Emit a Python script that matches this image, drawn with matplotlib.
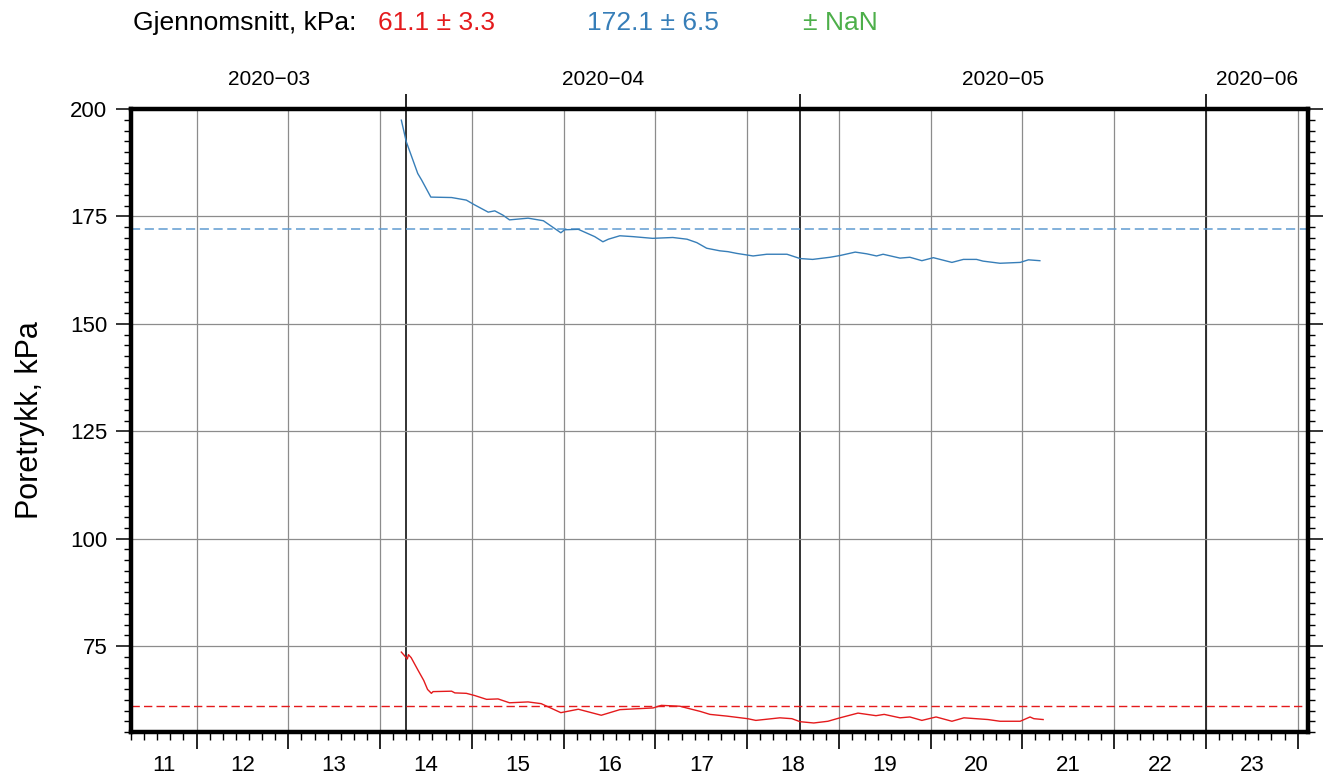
import matplotlib
matplotlib.use('Agg')
import matplotlib.pyplot as plt
import matplotlib.dates as mdates
from matplotlib.ticker import MultipleLocator
import pandas as pd

plt.rcParams['font.family'] = 'Liberation Sans'

# Pore pressure readings (thinned hourly series)
blue_time = ['2020-03-31 15:00', '2020-04-01 00:00', '2020-04-01 21:00', '2020-04-02 04:00',
             '2020-04-02 21:00', '2020-04-04 11:00', '2020-04-05 14:00', '2020-04-06 05:00',
             '2020-04-07 06:00', '2020-04-07 18:00', '2020-04-08 09:00', '2020-04-08 21:00',
             '2020-04-10 07:00', '2020-04-11 11:00', '2020-04-12 19:00', '2020-04-13 02:00',
             '2020-04-14 03:00', '2020-04-15 09:00', '2020-04-16 00:00', '2020-04-16 10:00',
             '2020-04-17 07:00', '2020-04-18 07:00', '2020-04-19 19:00', '2020-04-21 08:00',
             '2020-04-22 10:00', '2020-04-23 04:00', '2020-04-23 22:00', '2020-04-24 22:00',
             '2020-04-25 13:00', '2020-04-26 05:00', '2020-04-27 11:00', '2020-04-28 12:00',
             '2020-04-30 01:00', '2020-05-01 01:00', '2020-05-02 00:00', '2020-05-03 08:00',
             '2020-05-04 02:00', '2020-05-05 06:00', '2020-05-06 03:00', '2020-05-06 21:00',
             '2020-05-07 09:00', '2020-05-08 16:00', '2020-05-09 10:00', '2020-05-10 08:00',
             '2020-05-11 05:00', '2020-05-12 15:00', '2020-05-13 12:00', '2020-05-14 12:00',
             '2020-05-15 00:00', '2020-05-16 07:00', '2020-05-17 20:00', '2020-05-18 11:00',
             '2020-05-19 08:00']
blue_kpa = [197.4, 192.4, 185.0, 183.5, 179.5, 179.4, 178.8, 177.7,
            176.0, 176.3, 175.3, 174.2, 174.6, 174.0, 171.2, 171.9,
            172.0, 170.3, 169.1, 169.7, 170.5, 170.3, 169.9, 170.1,
            169.7, 168.9, 167.6, 167.0, 166.8, 166.4, 165.8, 166.2,
            166.2, 165.2, 165.0, 165.5, 165.9, 166.7, 166.3, 165.8,
            166.2, 165.3, 165.5, 164.7, 165.4, 164.3, 165.0, 165.0,
            164.6, 164.1, 164.3, 164.9, 164.7]

red_time = ['2020-03-31 15:00', '2020-04-01 02:00', '2020-04-01 04:00', '2020-04-01 09:00',
            '2020-04-01 21:00', '2020-04-02 08:00', '2020-04-02 15:00', '2020-04-02 22:00',
            '2020-04-03 01:00', '2020-04-04 11:00', '2020-04-04 17:00', '2020-04-05 14:00',
            '2020-04-06 05:00', '2020-04-07 03:00', '2020-04-08 00:00', '2020-04-08 21:00',
            '2020-04-10 07:00', '2020-04-11 07:00', '2020-04-12 19:00', '2020-04-14 03:00',
            '2020-04-15 21:00', '2020-04-17 07:00', '2020-04-18 13:00', '2020-04-19 20:00',
            '2020-04-20 11:00', '2020-04-21 21:00', '2020-04-22 09:00', '2020-04-23 10:00',
            '2020-04-24 04:00', '2020-04-25 11:00', '2020-04-27 01:00', '2020-04-27 16:00',
            '2020-04-29 12:00', '2020-04-30 10:00', '2020-05-01 01:00', '2020-05-02 02:00',
            '2020-05-03 04:00', '2020-05-04 02:00', '2020-05-05 11:00', '2020-05-06 20:00',
            '2020-05-07 11:00', '2020-05-08 16:00', '2020-05-09 10:00', '2020-05-10 08:00',
            '2020-05-11 10:00', '2020-05-12 15:00', '2020-05-13 13:00', '2020-05-14 11:00',
            '2020-05-15 09:00', '2020-05-16 07:00', '2020-05-17 20:00', '2020-05-18 14:00',
            '2020-05-18 21:00', '2020-05-19 14:00']
red_kpa = [73.6, 72.0, 73.0, 72.3, 69.5, 67.0, 64.9, 64.0,
           64.4, 64.5, 64.1, 64.0, 63.5, 62.6, 62.7, 61.8,
           62.0, 61.6, 59.5, 60.3, 58.9, 60.2, 60.4, 60.6,
           61.2, 61.0, 60.6, 59.8, 59.1, 58.7, 58.1, 57.7,
           58.3, 58.1, 57.4, 57.1, 57.5, 58.3, 59.4, 58.8,
           59.1, 58.3, 58.5, 57.7, 58.5, 57.5, 58.3, 58.1,
           57.9, 57.5, 57.5, 58.5, 58.1, 57.9]

red_mean = 61.1
blue_mean = 172.1
header = ['Gjennomsnitt, kPa:', '61.1 \u00b1 3.3', '172.1 \u00b1 6.5', '\u00b1 NaN']

RED = '#e41a1c'
BLUE = '#377eb8'
GREEN = '#4daf4a'

x_start = pd.Timestamp('2020-03-11 00:00')
x_end = pd.Timestamp('2020-06-08 19:00')

fig = plt.figure(figsize=(13.23, 7.76), dpi=100)
ax = fig.add_axes([0.099, 0.0567, 0.8897, 0.8028])

# Grid: weeks in gray, months in black
mondays = pd.date_range('2020-03-09', '2020-06-15', freq='W-MON')
for m in mondays:
    if x_start < m < x_end:
        ax.axvline(m, color='#8c8c8c', lw=0.9, zorder=1)
months = pd.date_range('2020-03-01', '2020-07-01', freq='MS')
for m in months:
    if x_start < m < x_end:
        ax.axvline(m, color='#222222', lw=1.3, zorder=1)
for y in range(75, 200, 25):
    ax.axhline(y, color='#8c8c8c', lw=0.9, zorder=1)

# Series and means
ax.plot(pd.to_datetime(blue_time), blue_kpa, color=BLUE, lw=1.0, zorder=3)
ax.plot(pd.to_datetime(red_time), red_kpa, color=RED, lw=1.0, zorder=3)
ax.axhline(blue_mean, color='#5f9bd1', lw=1.1, ls=(0, (6, 3)), zorder=2)
ax.axhline(red_mean, color=RED, lw=1.0, ls=(0, (6, 3)), zorder=2)

ax.set_xlim(x_start, x_end)
ax.set_ylim(55, 200)

# Frame
for s in ax.spines.values():
    s.set_linewidth(3.2)
    s.set_color('black')

# Y axis ticks on both sides
ax.set_yticks([75, 100, 125, 150, 175, 200])
ax.yaxis.set_minor_locator(MultipleLocator(2.5))
ax.tick_params(axis='y', which='major', direction='out', length=11, width=1.1,
               labelsize=16, right=True, pad=6)
ax.tick_params(axis='y', which='minor', direction='out', length=5, width=1.0, right=True)
ax.set_ylabel('Poretrykk, kPa', fontsize=22, labelpad=18)

# Bottom axis: day ticks, week ticks, week numbers as labels
ax.xaxis.set_major_locator(mdates.WeekdayLocator(byweekday=mdates.MO))
ax.xaxis.set_minor_locator(mdates.DayLocator())
ax.xaxis.set_major_formatter(plt.NullFormatter())
ax.tick_params(axis='x', which='major', direction='out', length=12, width=1.2)
ax.tick_params(axis='x', which='minor', direction='out', length=6, width=1.0)

xt = ax.get_xaxis_transform()
for m in mondays:
    lo = max(m, x_start)
    hi = min(m + pd.Timedelta(days=7), x_end)
    if hi - lo < pd.Timedelta(days=2):
        continue
    mid = lo + (hi - lo) / 2
    ax.text(mdates.date2num(mid), -0.053, str(m.isocalendar()[1]), transform=xt,
            ha='center', va='center', fontsize=16)

# Top axis: month ticks and labels
top = ax.secondary_xaxis('top')
top.set_xticks([mdates.date2num(m) for m in months if x_start < m < x_end])
top.set_xticklabels([])
top.tick_params(direction='out', length=11, width=1.2)
top.spines['top'].set_visible(False)
for i in range(len(months) - 1):
    lo = max(months[i], x_start)
    hi = min(months[i + 1], x_end)
    if hi - lo < pd.Timedelta(days=2):
        continue
    mid = lo + (hi - lo) / 2
    ax.text(mdates.date2num(mid), 1.047, months[i].strftime('%Y\u2212%m'), transform=xt,
            ha='center', va='center', fontsize=15)

# Header with mean values
fig.text(0.1005, 0.971, header[0], fontsize=19, va='center', ha='left')
fig.text(0.2855, 0.971, header[1], fontsize=19, va='center', ha='left', color=RED)
fig.text(0.4435, 0.971, header[2], fontsize=19, va='center', ha='left', color=BLUE)
fig.text(0.607, 0.971, header[3], fontsize=19, va='center', ha='left', color=GREEN)

fig.savefig('out.png', dpi=100)
